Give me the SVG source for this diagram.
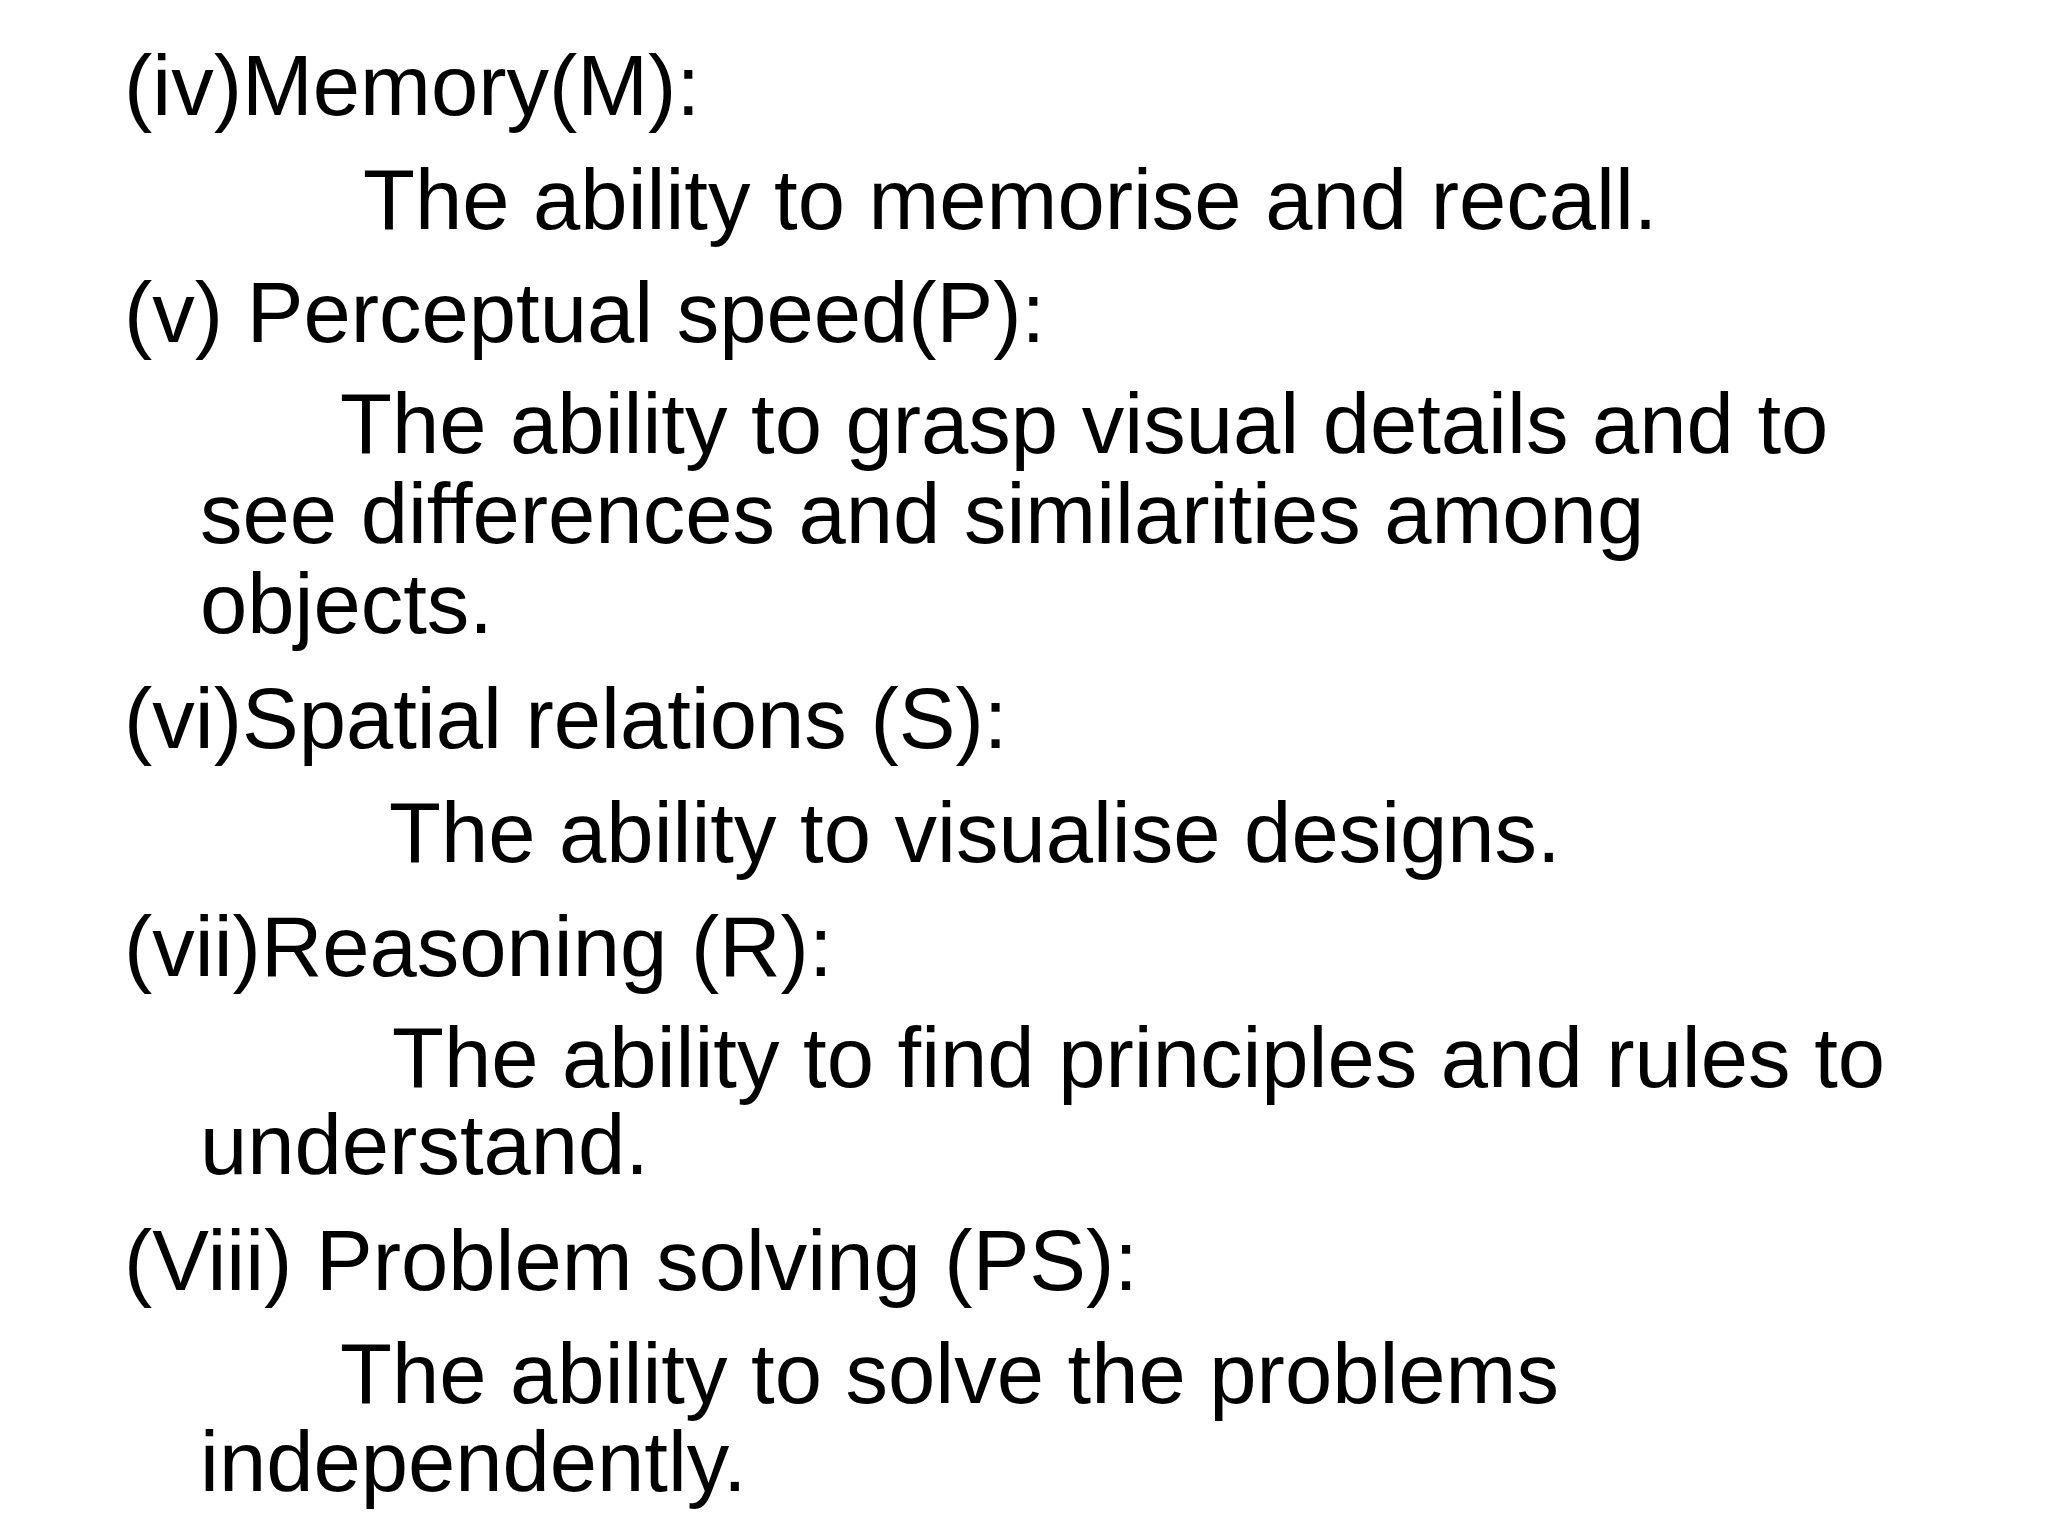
<svg xmlns="http://www.w3.org/2000/svg" width="2048" height="1536" viewBox="0 0 2048 1536">
<style>text{font-family:"Liberation Sans",Arial,sans-serif;font-size:85px;fill:#000}</style>
<rect width="2048" height="1536" fill="#fff"/>
<g id="content">
<text x="124" y="115">(iv)Memory(M):</text>
<text x="363" y="229">The ability to memorise and recall.</text>
<text x="124" y="342">(v) Perceptual speed(P):</text>
<text x="340" y="453">The ability to grasp visual details and to</text>
<text x="200" y="543">see differences and similarities among</text>
<text x="200" y="633">objects.</text>
<text x="124" y="748">(vi)Spatial relations (S):</text>
<text x="389" y="862">The ability to visualise designs.</text>
<text x="124" y="976">(vii)Reasoning (R):</text>
<text x="392" y="1087">The ability to find principles and rules to</text>
<text x="200" y="1174">understand.</text>
<text x="124" y="1290">(Viii) Problem solving (PS):</text>
<text x="340" y="1403">The ability to solve the problems</text>
<text x="200" y="1491">independently.</text>
</g>
</svg>
